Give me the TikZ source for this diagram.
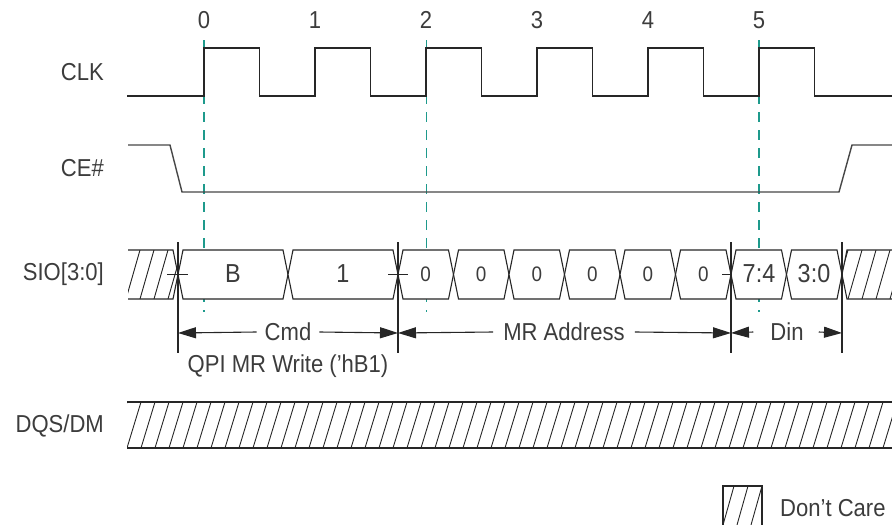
\documentclass[tikz,border=0pt]{standalone}
\usepackage{fontspec}
\setmainfont{Liberation Sans}[FakeStretch=0.9]
\usetikzlibrary{arrows.meta}
\definecolor{sig}{HTML}{262626}
\definecolor{tealdash}{HTML}{1E9A8C}
\definecolor{txt}{HTML}{3C3C3C}
\begin{document}
\begin{tikzpicture}[x=1pt,y=-1pt,
  sigline/.style={draw=sig,line width=1.4pt,line join=miter},
  busline/.style={draw=sig,line width=1.1pt},
  hatchline/.style={draw=sig,line width=0.9pt},
  guide/.style={draw=tealdash,line width=1.1pt,dash pattern=on 10pt off 8pt},
  lbl/.style={text=txt,font=\fontsize{24.5}{28}\selectfont,inner sep=0pt},
  rlbl/.style={lbl,anchor=east},
  boxtxt/.style={text=txt,font=\fontsize{26}{30}\selectfont,inner sep=0pt},
  smalltxt/.style={text=txt,font=\fontsize{21}{24}\selectfont,inner sep=0pt},
  dimline/.style={draw=sig,line width=1.1pt},
  dimarrow/.style={dimline,-{Triangle[length=18pt,width=11pt]}},
  extline/.style={draw=sig,line width=1.1pt}]
\useasboundingbox (0,0) rectangle (892,525);

% signal labels
\node[rlbl] (lclk) at (104,72) {CLK};
\node[rlbl] (lce) at (104,168) {CE\#};
\node[rlbl] (lsio) at (104,274) {SIO[3:0]};
\node[rlbl] (ldqs) at (104,426) {DQS/DM};

% clock numbers
\foreach \i/\x in {0/204,1/315,2/426,3/537,4/648,5/759}{
  \node[lbl] (n\i) at (\x,20) {\i};
}

% teal guide lines
\foreach \x in {204,426.5,759}{
  \draw[guide] (\x,40) -- (\x,312);
}

% CLK
\draw[sigline] (127,96)
  -- (204,96) -- (204,48) -- (259.5,48) -- (259.5,96)
  -- (315,96) -- (315,48) -- (370.5,48) -- (370.5,96)
  -- (426,96) -- (426,48) -- (481.5,48) -- (481.5,96)
  -- (537,96) -- (537,48) -- (592.5,48) -- (592.5,96)
  -- (648,96) -- (648,48) -- (703.5,48) -- (703.5,96)
  -- (759,96) -- (759,48) -- (814.5,48) -- (814.5,96)
  -- (892,96);

% CE#
\draw[sigline,draw=sig!85] (128,145) -- (170,145) -- (182,192) -- (839,192) -- (852,145) -- (892,145);

% SIO bus segments
\def\tp{250}\def\bt{299}\def\md{274.5}
\foreach \a/\b in {178/288,288/398,398/453.5,453.5/509,509/564.5,564.5/620,620/675.5,675.5/731,731/786.5,786.5/842}{
  \filldraw[busline,fill=white] (\a,\md) -- ({\a+5},\tp) -- ({\b-5},\tp) -- (\b,\md) -- ({\b-5},\bt) -- ({\a+5},\bt) -- cycle;
}
% left hatch region
\begin{scope}
  \clip (128,\tp) -- (173,\tp) -- (178,\md) -- (173,\bt) -- (128,\bt) -- cycle;
  \foreach \x in {112,126,...,180}{ \draw[hatchline] (\x,\bt) -- ({\x+14},\tp); }
\end{scope}
\draw[busline] (128,\tp) -- (173,\tp) -- (178,\md) -- (173,\bt) -- (128,\bt);
% right hatch region
\begin{scope}
  \clip (892,\tp) -- (847,\tp) -- (842,\md) -- (847,\bt) -- (892,\bt) -- cycle;
  \foreach \x in {834,848,...,900}{ \draw[hatchline] (\x,\bt) -- ({\x+14},\tp); }
\end{scope}
\draw[busline] (892,\tp) -- (847,\tp) -- (842,\md) -- (847,\bt) -- (892,\bt);

% bus values
\node[boxtxt] (vB) at (233,274) {B};
\node[boxtxt] (v1) at (343,274) {1};
\foreach \i/\x in {1/425.75,2/481.25,3/536.75,4/592.25,5/647.75,6/703.25}{
  \node[smalltxt] (z\i) at (\x,274) {0};
}
\node[boxtxt] (v74) at (759,274) {7:4};
\node[boxtxt] (v30) at (814,274) {3:0};

% extension lines
\foreach \n/\x in {e1/178,e2/398,e3/731,e4/842}{
  \coordinate (\n t) at (\x,242);
  \coordinate (\n b) at (\x,353);
  \draw[extline] (\n t) -- (\n b);
}
% ticks at crossings
\draw[extline] (167,\md) -- (188,\md);
\draw[extline] (388,\md) -- (408,\md);
\draw[extline] (722,\md) -- (731,\md);

% dimension labels
\node[lbl] (cmd) at (288,332) {Cmd};
\node[lbl] (qpi) at (288,366) {QPI MR Write (’hB1)};
\node[lbl] (mra) at (564,332) {MR Address};
\node[lbl] (din) at (787,332) {Din};

\coordinate (d1) at (178,333);
\coordinate (d2) at (398,333);
\coordinate (d3) at (731,333);
\coordinate (d4) at (842,333);
\draw[dimarrow] (cmd.west) ++(-8,0) -- (d1);
\draw[dimarrow] (cmd.east) ++(8,0) -- (d2);
\draw[dimarrow] (mra.west) ++(-10,0) -- (d2);
\draw[dimarrow] (mra.east) ++(10,0) -- (d3);
\draw[dimarrow] (din.west) ++(-17,0) -- (d3);
\draw[dimarrow] (din.east) ++(15,0) -- (d4);

% DQS/DM hatched bar
\begin{scope}
  \clip (127,402) rectangle (892,448);
  \foreach \x in {113,127,...,900}{ \draw[hatchline] (\x,448) -- ({\x+14},402); }
\end{scope}
\draw[busline] (127,402) -- (892,402);
\draw[busline] (127,448) -- (892,448);

% legend
\begin{scope}
  \clip (723,486) rectangle (762,525);
  \foreach \x in {709,723,...,770}{ \draw[hatchline] (\x,525) -- ({\x+11},486); }
\end{scope}
\draw[busline] (723,525) -- (723,486) -- (762,486) -- (762,525);
\node[lbl,anchor=west] (dc) at (780,508) {Don’t Care};
\end{tikzpicture}
\end{document}
